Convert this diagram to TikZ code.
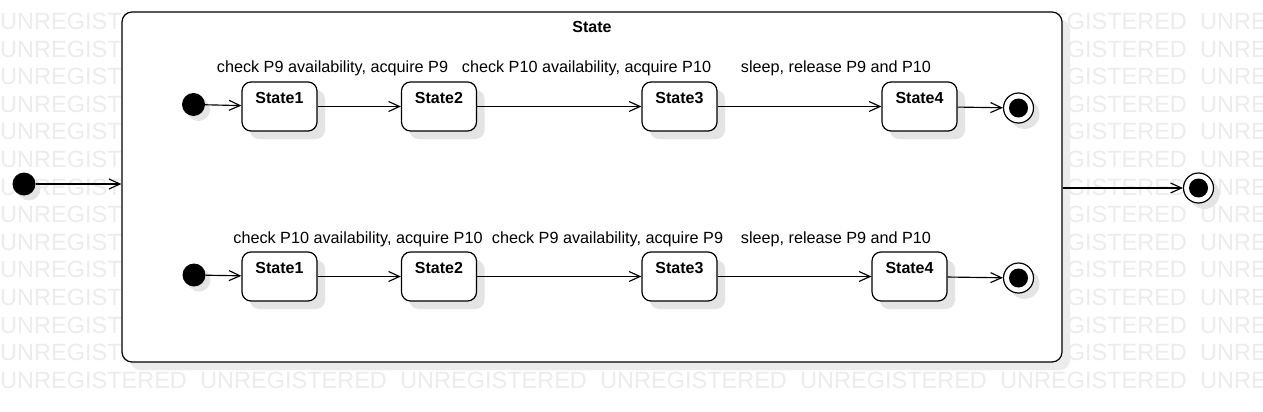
\documentclass[tikz,border=0pt]{standalone}
\usepackage{fontspec}
\setmainfont{Liberation Sans}
\usetikzlibrary{arrows.meta,shadows}
\definecolor{wmgray}{RGB}{236,236,236}
\definecolor{shgray}{RGB}{228,228,228}
\definecolor{shgraybig}{RGB}{236,236,236}
\begin{document}
\begin{tikzpicture}[x=1pt, y={(0,-1pt)},
  wm/.style={text=wmgray, font=\fontsize{23.5}{28}\selectfont, inner sep=0pt, anchor=base west},
  lbl/.style={font=\fontsize{16.2}{19}\selectfont, inner sep=0pt, anchor=base},
  ttl/.style={font=\bfseries\fontsize{16}{19}\selectfont, inner sep=0pt, anchor=base},
  bigbox/.style={draw, line width=1.2pt, rounded corners=10pt, fill=white,
    minimum width=940pt, minimum height=350pt, inner sep=0pt,
    drop shadow={shadow xshift=8pt, shadow yshift=-8pt, fill=shgraybig, opacity=1}},
  statebox/.style={draw, line width=1.2pt, rounded corners=9pt, fill=white,
    minimum width=75pt, inner xsep=0pt, inner ysep=4pt, text height=17pt, text depth=24pt,
    font=\bfseries\fontsize{16}{19}\selectfont,
    drop shadow={shadow xshift=8pt, shadow yshift=-8pt, fill=shgray, opacity=1}},
  initial/.style={circle, fill=black, minimum size=23pt, inner sep=0pt,
    drop shadow={shadow xshift=5pt, shadow yshift=-5pt, fill=shgray, opacity=1}},
  final/.style={circle, draw, line width=1.2pt, fill=white, minimum size=30pt, inner sep=0pt,
    drop shadow={shadow xshift=6pt, shadow yshift=-6pt, fill=shgray, opacity=1},
    path picture={\fill[black] (path picture bounding box.center) circle (9.5pt);}},
  tr/.style={line width=1.15pt, -{Straight Barb[length=11pt,width=10pt]}}
]
\useasboundingbox (0,0) rectangle (1263,412);
\fill[white] (0,0) rectangle (1263,412);
% watermark
\foreach \k in {0,...,13}{
  \foreach \j in {0,...,6}{
    \node[wm] (w\k-\j) at (200*\j, 29.4+27.6*\k) {UNREGISTERED};
  }
}
% composite state
\node[bigbox] (S) at (592,187) {};
\node[ttl] (St) at (592,32.5) {State};
% top region
\node[initial] (i1) at (193.5,104.5) {};
\node[statebox] (a1) at (279.5,106.5) {State1};
\node[statebox] (a2) at (439,106.5) {State2};
\node[statebox] (a3) at (679.5,106.5) {State3};
\node[statebox] (a4) at (919.5,106.5) {State4};
\node[final] (f1) at (1018.5,108) {};
\draw[tr] (i1) -- (a1);
\draw[tr] (a1) -- (a2);
\draw[tr] (a2) -- (a3);
\draw[tr] (a3) -- (a4);
\draw[tr] (a4) -- (f1);
\node[lbl] (t1) at (332.5,73) {check P9 availability, acquire P9};
\node[lbl] (t2) at (586.5,73) {check P10 availability, acquire P10};
\node[lbl] (t3) at (836,73) {sleep, release P9 and P10};
% bottom region
\node[initial] (i2) at (194,275) {};
\node[statebox] (b1) at (279.5,276.5) {State1};
\node[statebox] (b2) at (439,276.5) {State2};
\node[statebox] (b3) at (679.5,276.5) {State3};
\node[statebox] (b4) at (909.5,276.5) {State4};
\node[final] (f2) at (1018.5,278) {};
\draw[tr] (i2) -- (b1);
\draw[tr] (b1) -- (b2);
\draw[tr] (b2) -- (b3);
\draw[tr] (b3) -- (b4);
\draw[tr] (b4) -- (f2);
\node[lbl] (u1) at (358,243.5) {check P10 availability, acquire P10};
\node[lbl] (u2) at (607.5,243.5) {check P9 availability, acquire P9};
\node[lbl] (u3) at (836,243.5) {sleep, release P9 and P10};
% outer
\node[initial] (i0) at (24,184) {};
\node[final] (f0) at (1198.5,188) {};
\draw[tr] (i0) -- (i0 -| S.west);
\draw[tr] (S.east |- f0) -- (f0);
\end{tikzpicture}
\end{document}
